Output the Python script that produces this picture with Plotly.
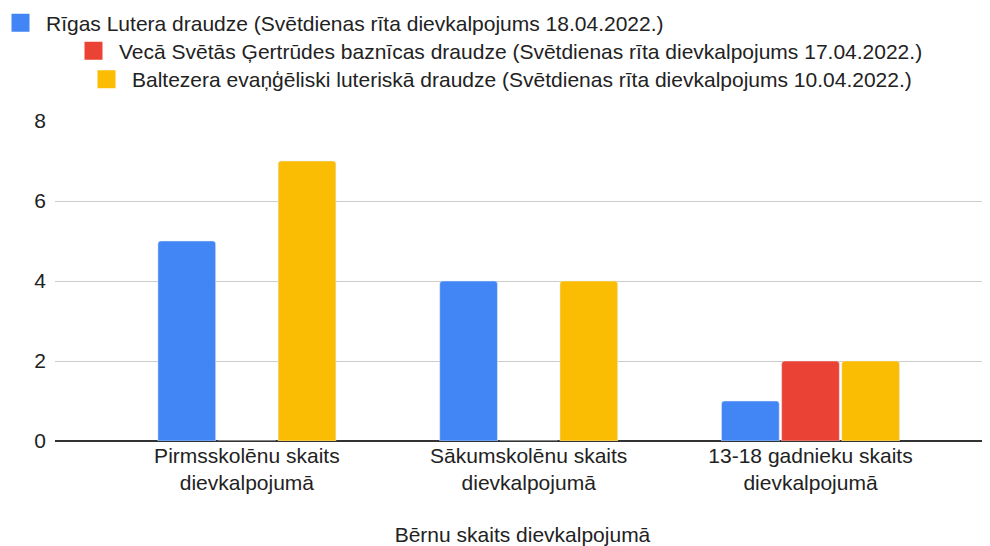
import plotly.graph_objects as go

categories = ["Pirmsskolēnu skaits<br>dievkalpojumā",
              "Sākumskolēnu skaits<br>dievkalpojumā",
              "13-18 gadnieku skaits<br>dievkalpojumā"]
series_names = [
    "Rīgas Lutera draudze (Svētdienas rīta dievkalpojums 18.04.2022.)",
    "Vecā Svētās Ģertrūdes baznīcas draudze (Svētdienas rīta dievkalpojums 17.04.2022.)",
    "Baltezera evaņģēliski luteriskā draudze (Svētdienas rīta dievkalpojums 10.04.2022.)",
]
rigas = [5, 4, 1]
gertrudes = [0, 0, 2]
baltezera = [7, 4, 2]
y_ticks = [0, 2, 4, 6, 8]
x_title = "Bērnu skaits dievkalpojumā"

colors = ["#4285F4", "#EA4335", "#FBBC04"]
FONT = "Arial, 'Liberation Sans', sans-serif"
W, H = 982, 538
ML, MR = 47, 0
PW = W - ML - MR

fig = go.Figure()
legend_ids = ["legend", "legend2", "legend3"]
for name, vals, col, lg in zip(series_names, [rigas, gertrudes, baltezera], colors, legend_ids):
    fig.add_trace(go.Bar(x=categories, y=vals, name=name, marker_color=col,
                         showlegend=False, legendgroup=name))
    fig.add_trace(go.Scatter(x=[None], y=[None], mode="markers", name=name,
                             legendgroup=name, legend=lg,
                             marker=dict(symbol="square", size=16, color=col,
                                         line=dict(width=2, color=col))))

legend_common = dict(xref="paper", yref="container", xanchor="left", yanchor="middle",
                     font=dict(family=FONT, size=21, color="#222222"),
                     bgcolor="rgba(0,0,0,0)", itemsizing="trace", itemwidth=41)

fig.update_layout(
    width=W, height=H, autosize=False,
    margin=dict(l=ML, r=MR, t=113, b=105, autoexpand=False),
    paper_bgcolor="white", plot_bgcolor="white",
    font=dict(family=FONT, size=21, color="#222222"),
    barmode="group", bargap=0.36, bargroupgap=0.04, barcornerradius=3,
    legend=dict(x=(-13 - ML) / PW, y=1 - 15 / H, **legend_common),
    legend2=dict(x=(60 - ML) / PW, y=1 - 43 / H, **legend_common),
    legend3=dict(x=(73 - ML) / PW, y=1 - 71.5 / H, **legend_common),
    xaxis=dict(type="category", range=[-0.681, 2.637], showgrid=False,
               showline=False, ticks="", tickfont=dict(size=21), tickangle=0,
               title=dict(text=x_title, font=dict(size=21), standoff=35)),
    yaxis=dict(range=[0, 8], tickvals=y_ticks, showgrid=True, gridcolor="#cccccc",
               gridwidth=1, zeroline=True, zerolinecolor="#333333", zerolinewidth=1.5,
               showline=False, ticks="", tickfont=dict(size=21), ticklabelstandoff=8),
)

fig.write_html("out.html")
